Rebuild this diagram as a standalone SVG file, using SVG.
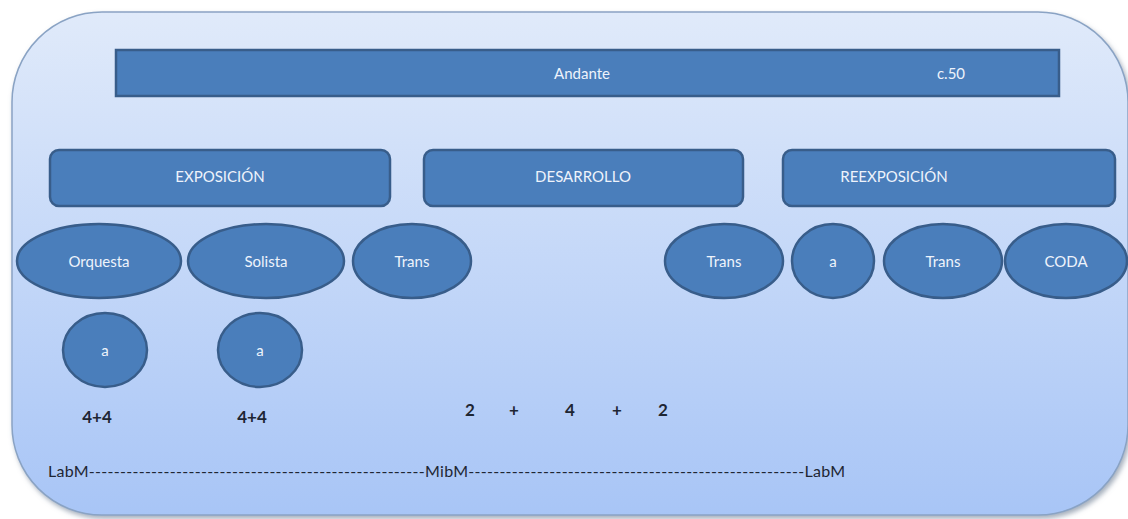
<svg xmlns="http://www.w3.org/2000/svg" width="1128" height="519" viewBox="0 0 1128 519">
<defs>
<linearGradient id="bg" x1="0" y1="0" x2="0" y2="1">
<stop offset="0" stop-color="#e0eafa"/>
<stop offset="1" stop-color="#a8c5f6"/>
</linearGradient>
<filter id="sh" x="-5%" y="-5%" width="110%" height="110%">
<feDropShadow dx="2" dy="3" stdDeviation="2.5" flood-color="#6a7a90" flood-opacity="0.6"/>
</filter>
</defs>
<style>
.box{fill:#4a7ebb;stroke:#385d8a;stroke-width:2.5}
.lt{font-family:Lato,"Liberation Sans",sans-serif;font-size:15px;fill:#eef3fb;text-anchor:middle;dominant-baseline:central}
.dk{font-family:Lato,"Liberation Sans",sans-serif;font-size:17px;fill:#1e2633;font-weight:bold}
.dn{font-family:Lato,"Liberation Sans",sans-serif;font-size:16px;fill:#1e2633}
</style>
<rect x="12" y="12" width="1116" height="503" rx="90" ry="90" fill="url(#bg)" stroke="#8aa3c4" stroke-width="1.5" filter="url(#sh)"/>
<g id="andante"><rect class="box" x="116" y="50" width="943" height="46"/><text class="lt" x="582" y="73">Andante</text><text class="lt" x="951" y="73">c.50</text></g>
<g id="exposicion"><rect class="box" x="50" y="150" width="340" height="56" rx="9"/><text class="lt" x="220" y="176">EXPOSICIÓN</text></g>
<g id="desarrollo"><rect class="box" x="424" y="150" width="319" height="56" rx="9"/><text class="lt" x="583" y="176">DESARROLLO</text></g>
<g id="reexposicion"><rect class="box" x="783" y="150" width="332" height="56" rx="9"/><text class="lt" x="894" y="176">REEXPOSICIÓN</text></g>
<g id="orquesta"><ellipse class="box" cx="99" cy="261" rx="82" ry="37"/><text class="lt" x="99" y="261">Orquesta</text></g>
<g id="solista"><ellipse class="box" cx="266" cy="261" rx="78" ry="37"/><text class="lt" x="266" y="261">Solista</text></g>
<g id="trans1"><ellipse class="box" cx="412" cy="261" rx="59" ry="37"/><text class="lt" x="412" y="261">Trans</text></g>
<g id="trans2"><ellipse class="box" cx="724" cy="261" rx="59" ry="37"/><text class="lt" x="724" y="261">Trans</text></g>
<g id="a3"><ellipse class="box" cx="833" cy="261" rx="41" ry="37"/><text class="lt" x="833" y="261">a</text></g>
<g id="trans3"><ellipse class="box" cx="943" cy="261" rx="59" ry="37"/><text class="lt" x="943" y="261">Trans</text></g>
<g id="coda"><ellipse class="box" cx="1066" cy="261" rx="61" ry="37"/><text class="lt" x="1066" y="261">CODA</text></g>
<g id="a1"><ellipse class="box" cx="105" cy="350" rx="42" ry="37"/><text class="lt" x="105" y="350">a</text></g>
<g id="a2"><ellipse class="box" cx="260" cy="350" rx="42" ry="37"/><text class="lt" x="260" y="350">a</text></g>
<g id="connectors"></g>
<g id="labels">
<text class="dk" x="97" y="423" text-anchor="middle">4+4</text>
<text class="dk" x="252" y="423" text-anchor="middle">4+4</text>
<text class="dk" x="470" y="416" text-anchor="middle">2</text>
<text class="dk" x="514" y="416" text-anchor="middle">+</text>
<text class="dk" x="570" y="416" text-anchor="middle">4</text>
<text class="dk" x="617" y="416" text-anchor="middle">+</text>
<text class="dk" x="663" y="416" text-anchor="middle">2</text>
<text class="dn" x="48" y="477" textLength="797" lengthAdjust="spacing">LabM------------------------------------------------------MibM------------------------------------------------------LabM</text>
</g>
</svg>
